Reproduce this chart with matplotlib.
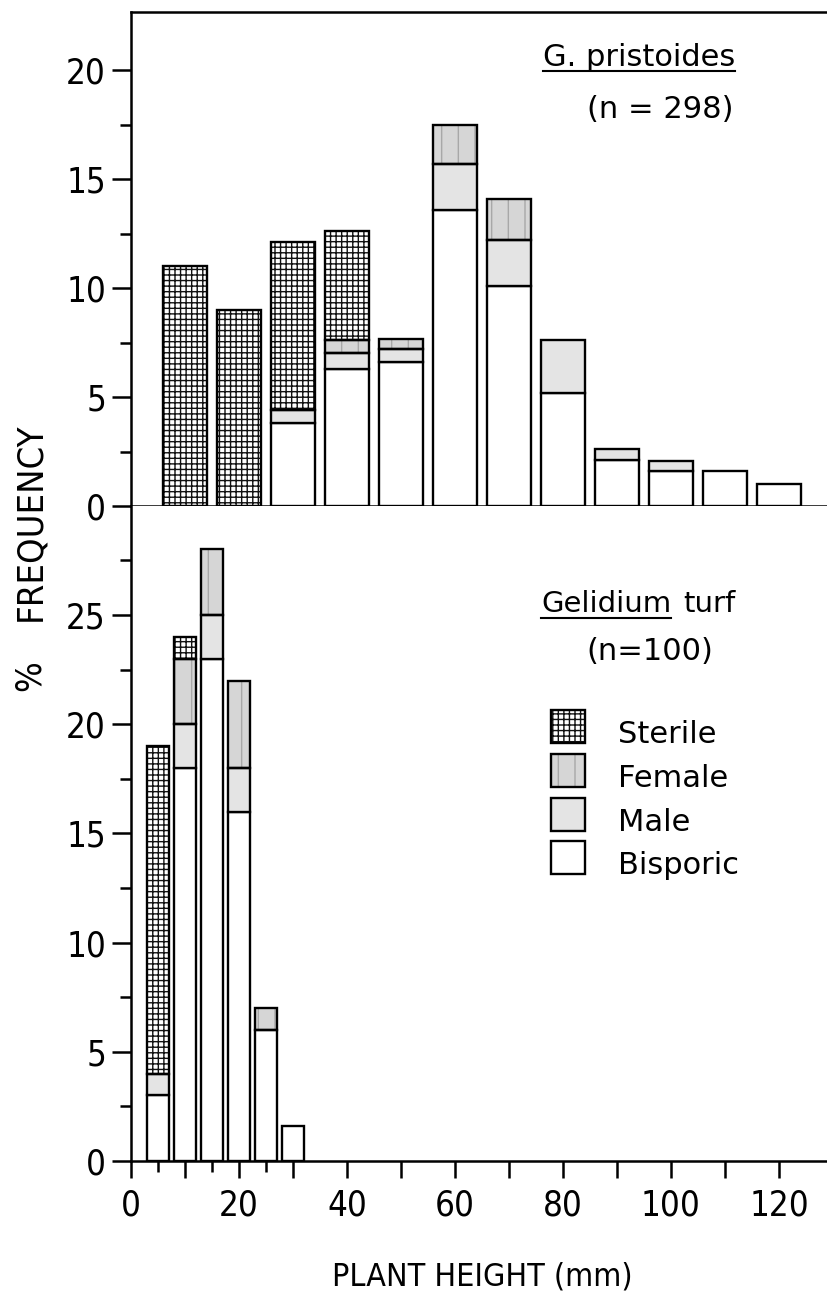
import matplotlib
matplotlib.use("Agg")
import matplotlib.pyplot as plt
from matplotlib import font_manager as fm
from matplotlib.patches import Rectangle
from matplotlib.lines import Line2D
from matplotlib.ticker import FixedLocator
import numpy as np

# ---------------- data ----------------
categories = ["Sterile", "Female", "Male", "Bisporic"]

# G. pristoides (n=298): plant height classes (mm), bar centres
top_heights = [10, 20, 30, 40, 50, 60, 70, 80, 90, 100, 110, 120]
top_bisporic = [0, 0, 3.8, 6.3, 6.6, 13.6, 10.1, 5.2, 2.1, 1.6, 1.6, 1.0]
top_male     = [0, 0, 0.6, 0.7, 0.6, 2.1, 2.1, 2.4, 0.5, 0.45, 0, 0]
top_female   = [0, 0, 0, 0.6, 0.45, 1.8, 1.9, 0, 0, 0, 0, 0]
top_sterile  = [11.0, 9.0, 7.7, 5.0, 0, 0, 0, 0, 0, 0, 0, 0]

# Gelidium turf (n=100)
bot_heights = [5, 10, 15, 20, 25, 30]
bot_bisporic = [3, 18, 23, 16, 6, 1.6]
bot_male     = [1, 2, 2, 2, 0, 0]
bot_female   = [0, 3, 3, 4, 1, 0]
bot_sterile  = [15, 1, 0, 0, 0, 0]

y_ticks_top = [0, 5, 10, 15, 20]
y_minor_top = [2.5, 7.5, 12.5, 17.5]
y_ticks_bot = [0, 5, 10, 15, 20, 25]
y_minor_bot = [2.5, 7.5, 12.5, 17.5, 22.5, 27.5]
x_tick_labels = [0, 20, 40, 60, 80, 100, 120]

# ---------------- fonts ----------------
NARROW = None
NSTRETCH = "normal"
for fam, stretch in (("Liberation Sans Narrow", "normal"), ("DejaVu Sans", "condensed"),
                     ("Noto Sans", "condensed"), ("Open Sans", "condensed")):
    try:
        p = fm.findfont(fm.FontProperties(family=fam, stretch=stretch), fallback_to_default=False)
        if fam == "Liberation Sans Narrow" or "ondensed" in p or "arrow" in p:
            NARROW, NSTRETCH = fam, stretch
            break
    except Exception:
        pass
if NARROW is None:
    NARROW, NSTRETCH, nscale = "DejaVu Sans", "normal", 0.88
else:
    nscale = 1.0

TEXTF = "DejaVu Sans"
plt.rcParams["font.family"] = [TEXTF]
plt.rcParams["hatch.linewidth"] = 1.0

W, H = 828, 1297
fig = plt.figure(figsize=(W / 100, H / 100), dpi=100)

def fx(px):
    return px / W

def fy(py):
    return 1 - py / H

x_left, x_right = 131, 828
y_top1, y_mid, y_bot2 = 12, 506, 1161
ax1 = fig.add_axes([fx(x_left), fy(y_mid), 1 - fx(x_left), (y_mid - y_top1) / H])
ax2 = fig.add_axes([fx(x_left), fy(y_bot2), 1 - fx(x_left), (y_bot2 - y_mid) / H])

XMAX = (x_right - x_left) / 5.4
ax1.set_xlim(0, XMAX)
ax2.set_xlim(0, XMAX)
ax1.set_ylim(0, (y_mid - y_top1) / 21.8)
ax2.set_ylim(0, (y_bot2 - y_mid) / 21.84)

styles = {
    "Bisporic": dict(facecolor="white", hatch=None, hcol=None),
    "Male": dict(facecolor="#e4e4e4", hatch=None, hcol=None),
    "Female": dict(facecolor="#d6d6d6", hatch="|", hcol="#a8a8a8"),
    "Sterile": dict(facecolor="white", hatch="+++", hcol="#111111"),
}

EDGE_LW = 1.7

def draw_stack(ax, xs, series, width):
    bottom = np.zeros(len(xs))
    for name, vals in series:
        vals = np.asarray(vals, dtype=float)
        st = styles[name]
        mask = vals > 0
        xm = np.asarray(xs)[mask]
        if st["hatch"]:
            ax.bar(xm, vals[mask], width, bottom=bottom[mask], facecolor=st["facecolor"],
                   edgecolor=st["hcol"], hatch=st["hatch"], linewidth=0, zorder=2)
            ax.bar(xm, vals[mask], width, bottom=bottom[mask], facecolor="none",
                   edgecolor="black", linewidth=EDGE_LW, zorder=3)
        else:
            ax.bar(xm, vals[mask], width, bottom=bottom[mask], facecolor=st["facecolor"],
                   edgecolor="black", linewidth=EDGE_LW, zorder=3)
        bottom = bottom + vals

draw_stack(ax1, top_heights, [("Bisporic", top_bisporic), ("Male", top_male),
                              ("Female", top_female), ("Sterile", top_sterile)], 8.0)
draw_stack(ax2, bot_heights, [("Bisporic", bot_bisporic), ("Male", bot_male),
                              ("Female", bot_female), ("Sterile", bot_sterile)], 3.9)

TICK_FS = 25 * nscale
SP_LW = 1.8
for ax in (ax1, ax2):
    ax.spines["right"].set_visible(False)
    for s in ax.spines.values():
        s.set_linewidth(SP_LW)
    ax.tick_params(axis="both", which="both", direction="out", width=SP_LW, colors="black")
    ax.tick_params(axis="y", which="major", length=14, pad=4)
    ax.tick_params(axis="y", which="minor", length=8)
ax2.spines["top"].set_visible(False)

ax1.yaxis.set_major_locator(FixedLocator(y_ticks_top))
ax1.yaxis.set_minor_locator(FixedLocator(y_minor_top))
ax2.yaxis.set_major_locator(FixedLocator(y_ticks_bot))
ax2.yaxis.set_minor_locator(FixedLocator(y_minor_bot))
ax1.set_yticklabels([str(v) for v in y_ticks_top], family=NARROW, stretch=NSTRETCH, fontsize=TICK_FS)
ax2.set_yticklabels([str(v) for v in y_ticks_bot], family=NARROW, stretch=NSTRETCH, fontsize=TICK_FS)

# top panel x ticks: every 10 mm, no labels
ax1.xaxis.set_major_locator(FixedLocator(list(range(10, 130, 10))))
ax1.tick_params(axis="x", which="major", length=12, labelbottom=False)

# bottom panel x ticks
ax2.xaxis.set_major_locator(FixedLocator(list(range(0, 130, 10))))
ax2.xaxis.set_minor_locator(FixedLocator([5, 15, 25]))
ax2.set_xticklabels([str(v) if v in x_tick_labels else "" for v in range(0, 130, 10)],
                    family=NARROW, stretch=NSTRETCH, fontsize=TICK_FS)
ax2.tick_params(axis="x", which="major", length=12, pad=8)
ax2.tick_params(axis="x", which="minor", length=8)

# axis labels
LAB_FS = 26 * nscale
fig.text(fx(30), fy(522), "FREQUENCY", rotation=90, ha="center", va="center",
         fontsize=LAB_FS, family=NARROW, stretch=NSTRETCH)
fig.text(fx(30), fy(676), "%", rotation=90, ha="center", va="center",
         fontsize=LAB_FS, family=NARROW, stretch=NSTRETCH)
fig.text(fx(482), fy(1277), "PLANT HEIGHT (mm)", ha="center", va="center",
         fontsize=23 * nscale, family=NARROW, stretch=NSTRETCH)

# panel annotations
t1 = fig.text(fx(543), fy(66), "G. pristoides", ha="left", va="baseline", fontsize=22)
fig.text(fx(660), fy(109), "(n = 298)", ha="center", va="center", fontsize=22)
t2 = fig.text(fx(541), fy(612), "Gelidium", ha="left", va="baseline", fontsize=21)
fig.text(fx(683), fy(612), "turf", ha="left", va="baseline", fontsize=21)
fig.text(fx(650), fy(652), "(n=100)", ha="center", va="center", fontsize=22)

fig.canvas.draw()
rend = fig.canvas.get_renderer()
for t, uy in ((t1, 71), (t2, 618)):
    bb = t.get_window_extent(renderer=rend)
    fig.add_artist(Line2D([bb.x0 / W, bb.x1 / W], [fy(uy), fy(uy)],
                          transform=fig.transFigure, color="black", lw=1.5))

# legend (manual, in figure pixel layout)
leg_rows = [("Sterile", 710), ("Female", 754), ("Male", 798), ("Bisporic", 841)]
for name, ytop in leg_rows:
    st = styles[name]
    rect_kw = dict(transform=fig.transFigure)
    xy = (fx(551), fy(ytop + 33))
    if st["hatch"]:
        fig.add_artist(Rectangle(xy, 34 / W, 33 / H, facecolor=st["facecolor"],
                                 edgecolor=st["hcol"], hatch=st["hatch"], linewidth=0, **rect_kw))
        fig.add_artist(Rectangle(xy, 34 / W, 33 / H, facecolor="none", edgecolor="black",
                                 linewidth=EDGE_LW, **rect_kw))
    else:
        fig.add_artist(Rectangle(xy, 34 / W, 33 / H, facecolor=st["facecolor"],
                                 edgecolor="black", linewidth=EDGE_LW, **rect_kw))
    fig.text(fx(618), fy(ytop + 33), name, ha="left", va="baseline", fontsize=22)

fig.savefig("out.png", dpi=100, facecolor="white")
